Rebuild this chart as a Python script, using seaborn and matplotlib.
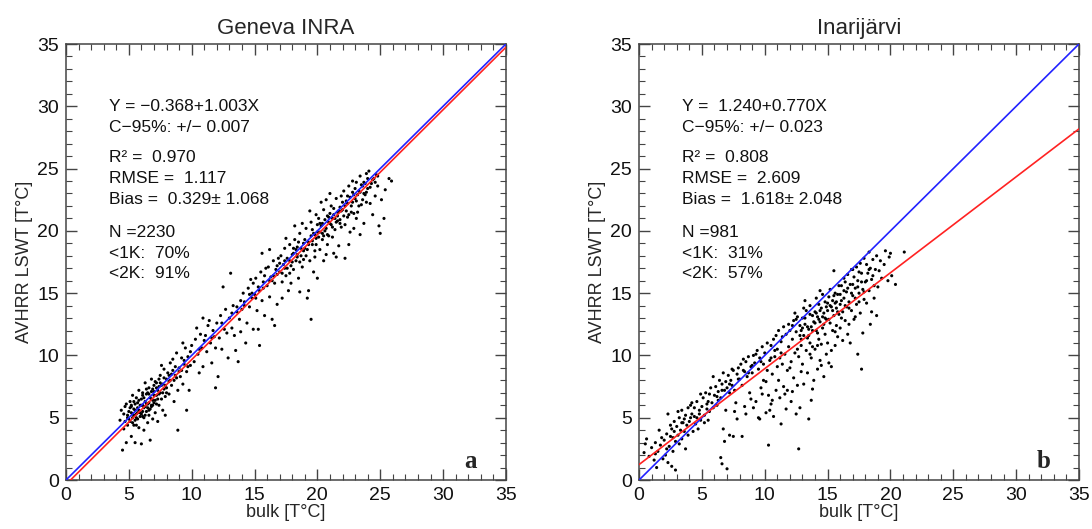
import matplotlib
matplotlib.use("Agg")
import matplotlib.pyplot as plt
from matplotlib.ticker import MultipleLocator
import seaborn as sns
import pandas as pd
import numpy as np

# ---------------- data ----------------
titles = ["Geneva INRA", "Inarijärvi"]
panel_letters = ["a", "b"]
axis_ticks = [0, 5, 10, 15, 20, 25, 30, 35]

# regression coefficients (intercept, slope)
geneva_fit = [-0.368, 1.003]
inari_fit = [1.240, 0.770]

geneva_stats = ["Y = \u22120.368+1.003X", "C\u221295%: +/\u2212 0.007",
                "R\u00b2 =  0.970", "RMSE =  1.117", "Bias =  0.329\u00b1 1.068",
                "N =2230", "<1K:  70%", "<2K:  91%"]
inari_stats = ["Y =  1.240+0.770X", "C\u221295%: +/\u2212 0.023",
               "R\u00b2 =  0.808", "RMSE =  2.609", "Bias =  1.618\u00b1 2.048",
               "N =981", "<1K:  31%", "<2K:  57%"]

geneva_bulk = [
    4.3, 4.4, 4.5, 4.6, 4.7, 4.8, 4.9, 4.6, 4.9, 4.8,
    5.0, 5.1, 5.1, 5.2, 5.2, 5.3, 5.3, 5.4, 5.4, 5.5, 5.5, 5.6, 5.6, 5.7, 5.7, 5.8, 5.8, 5.9, 5.9, 6.0, 5.5, 5.2, 5.8, 5.4,
    6.0, 6.1, 6.1, 6.2, 6.2, 6.3, 6.3, 6.4, 6.4, 6.5, 6.5, 6.6, 6.6, 6.7, 6.7, 6.8, 6.8, 6.9, 6.9, 7.0, 6.3, 6.6, 6.1, 6.8,
    7.0, 7.1, 7.1, 7.2, 7.3, 7.3, 7.4, 7.5, 7.5, 7.6, 7.7, 7.7, 7.8, 7.8, 7.9, 8.0, 7.4, 7.2, 7.6, 7.9,
    8.0, 8.1, 8.2, 8.3, 8.3, 8.4, 8.5, 8.6, 8.7, 8.8, 8.9, 8.9, 8.5, 8.2, 8.8,
    9.0, 9.1, 9.2, 9.3, 9.4, 9.5, 9.6, 9.7, 9.8, 9.9, 9.3, 9.6, 9.9,
    10.0, 10.2, 10.3, 10.5, 10.6, 10.7, 10.8, 10.9, 10.4, 10.9,
    11.0, 11.2, 11.3, 11.5, 11.6, 11.7, 11.8, 11.9, 11.4, 11.9,
    12.0, 12.2, 12.3, 12.4, 12.6, 12.7, 12.8, 12.9, 12.5, 12.1,
    13.0, 13.2, 13.3, 13.4, 13.6, 13.7, 13.8, 13.9, 13.5, 13.1, 13.9,
    14.0, 14.1, 14.2, 14.4, 14.5, 14.6, 14.7, 14.8, 14.9, 14.3, 14.6, 14.9,
    15.0, 15.1, 15.2, 15.3, 15.4, 15.5, 15.6, 15.7, 15.8, 15.9, 15.3, 15.6, 15.1, 15.8,
    16.0, 16.1, 16.2, 16.3, 16.4, 16.5, 16.6, 16.7, 16.8, 16.9, 16.6, 16.2, 16.4, 16.8,
    17.0, 17.1, 17.2, 17.3, 17.4, 17.5, 17.6, 17.7, 17.8, 17.9, 17.2, 17.5, 17.8, 17.4, 17.9,
    18.0, 18.1, 18.2, 18.3, 18.4, 18.5, 18.6, 18.7, 18.8, 18.9, 18.2, 18.6, 18.4, 18.8, 18.1, 18.9, 18.5,
    19.0, 19.1, 19.2, 19.3, 19.4, 19.5, 19.5, 19.6, 19.7, 19.8, 19.9, 19.3, 19.6, 19.9, 19.1, 19.4, 19.8, 19.7,
    20.0, 20.1, 20.2, 20.3, 20.4, 20.5, 20.6, 20.7, 20.8, 20.9, 20.0, 20.3, 20.5, 20.9, 20.2, 20.7, 20.4, 20.8,
    21.0, 21.1, 21.2, 21.3, 21.4, 21.5, 21.6, 21.7, 21.8, 21.9, 21.0, 21.3, 21.6, 21.9, 21.2, 21.5, 21.8,
    22.0, 22.1, 22.2, 22.3, 22.4, 22.5, 22.6, 22.7, 22.8, 22.9, 22.2, 22.5, 22.8, 22.4, 22.9,
    23.0, 23.1, 23.2, 23.3, 23.4, 23.5, 23.6, 23.7, 23.8, 23.9, 23.4, 23.7, 23.1, 23.9,
    24.0, 24.1, 24.2, 24.3, 24.4, 24.5, 24.6, 24.8, 24.9, 24.7,
    25.1, 25.3, 25.7, 25.9, 25.4, 25.0,
    # denser core along the 1:1 line
    5.0, 5.2, 5.3, 5.5, 5.6, 5.7, 5.9, 6.0, 6.1, 6.2, 6.3, 6.4, 6.5, 6.6, 6.7, 6.8, 6.9, 7.0, 7.1, 7.2,
    7.3, 7.4, 7.5, 7.6, 7.7, 7.8, 7.9, 8.0, 5.1, 5.4, 5.6, 5.8, 6.0, 6.2, 6.4, 6.6, 6.8, 7.0, 7.2, 7.4,
    6.1, 6.5, 6.9, 5.3, 5.7, 4.7, 4.9, 8.2, 8.4, 8.6, 8.7, 9.0, 9.2, 9.4, 9.7,
    17.0, 17.2, 17.4, 17.6, 17.8, 18.0, 18.1, 18.3, 18.4, 18.6, 18.7, 18.9, 19.0, 19.2, 19.3, 19.5,
    19.6, 19.8, 19.9, 20.0, 20.1, 20.2, 20.4, 20.5, 20.6, 20.7, 20.8, 20.9, 21.0, 21.1, 21.2, 21.3,
    21.4, 21.5, 21.6, 21.7, 21.8, 21.9, 22.0, 22.1, 22.2, 22.3, 22.4, 22.5, 22.6, 22.7, 22.8, 22.9,
    23.0, 23.1, 23.2, 23.3, 23.4, 23.5, 23.6, 23.7, 23.8, 23.9, 24.0, 24.2, 24.4, 24.6, 24.8,
    16.2, 16.5, 16.8, 15.4, 15.7, 14.8, 14.2, 13.6, 13.2, 12.4, 11.6, 11.1, 10.6,
]
geneva_avhrr = [
    4.8, 5.6, 2.4, 4.1, 5.9, 3.0, 5.2, 5.3, 4.4, 6.1,
    5.5, 4.7, 6.3, 3.5, 5.9, 5.0, 6.8, 4.4, 5.7, 6.1, 3.0, 5.3, 6.6, 4.9, 5.8, 7.2, 4.2, 6.0, 5.4, 2.9, 4.8, 6.0, 6.4, 5.2,
    6.5, 5.1, 7.0, 5.8, 4.0, 6.3, 7.8, 5.5, 6.9, 4.6, 6.1, 7.4, 5.2, 6.6, 3.2, 5.9, 7.1, 6.4, 4.9, 7.6, 5.9, 6.2, 6.0, 8.1,
    6.2, 5.4, 7.9, 6.8, 7.2, 4.7, 6.0, 8.4, 7.0, 6.5, 7.7, 5.6, 8.9, 7.3, 6.7, 8.1, 7.5, 7.8, 9.2, 5.2,
    7.4, 8.6, 6.9, 8.0, 9.4, 7.6, 8.8, 6.3, 9.1, 8.2, 7.2, 4.0, 9.7, 8.4, 10.2,
    9.0, 8.3, 9.8, 7.7, 9.3, 10.6, 8.7, 9.9, 7.2, 10.3, 11.0, 5.6, 9.2,
    10.8, 9.5, 11.3, 10.1, 8.6, 11.7, 10.6, 9.1, 12.2, 13.0,
    11.2, 10.3, 12.4, 11.0, 9.4, 12.0, 11.5, 7.4, 12.8, 10.6,
    12.6, 11.4, 13.2, 10.5, 12.1, 13.7, 11.8, 9.8, 15.5, 8.3,
    13.0, 12.2, 14.0, 11.6, 13.5, 9.5, 12.9, 14.4, 10.4, 16.6, 11.9,
    13.7, 15.0, 14.3, 12.6, 15.4, 13.9, 16.1, 14.6, 12.1, 11.0, 14.9, 15.8,
    14.9, 16.2, 13.6, 15.5, 10.8, 16.7, 14.4, 15.9, 13.2, 17.0, 12.1, 18.2, 14.6, 16.4,
    15.6, 17.1, 14.7, 16.3, 12.9, 17.6, 15.8, 16.9, 14.1, 17.8, 12.4, 18.5, 16.0, 16.5,
    16.7, 18.0, 15.9, 17.3, 18.6, 16.4, 17.8, 15.2, 18.9, 17.2, 14.6, 19.4, 16.6, 17.6, 15.8,
    18.1, 16.9, 19.3, 17.6, 18.7, 16.2, 19.8, 18.0, 17.1, 19.0, 20.4, 15.1, 17.9, 20.6, 18.6, 17.7, 19.1,
    18.6, 20.2, 14.6, 19.1, 17.6, 12.9, 20.7, 18.9, 19.8, 17.9, 21.3, 15.2, 20.1, 19.4, 18.0, 21.6, 18.4, 16.7,
    19.9, 21.0, 18.5, 20.4, 19.3, 21.7, 20.0, 18.1, 21.2, 19.6, 16.2, 22.3, 17.6, 20.7, 20.6, 22.5, 19.8, 18.9,
    20.6, 22.0, 19.5, 21.3, 20.1, 22.6, 20.8, 18.8, 21.9, 20.3, 23.0, 18.2, 21.5, 22.8, 21.0, 17.9, 20.9,
    21.7, 23.2, 20.5, 22.4, 21.1, 23.6, 19.9, 22.0, 23.1, 21.4, 17.8, 18.9, 24.0, 22.8, 20.2,
    22.6, 23.9, 21.5, 23.2, 24.4, 22.1, 23.6, 20.6, 22.9, 24.6, 19.7, 23.9, 21.0, 22.3,
    23.4, 24.8, 22.2, 23.8, 21.3, 24.2, 22.8, 23.6, 20.4, 24.5,
    22.5, 21.0, 24.2, 24.0, 23.3, 19.8,
    # denser core along the 1:1 line
    4.9, 5.4, 4.6, 5.6, 4.4, 6.2, 5.1, 6.0, 5.5, 6.6, 5.2, 6.1, 5.8, 6.9, 5.7, 6.5, 7.3, 6.8, 6.4, 7.4,
    6.5, 6.9, 7.8, 7.6, 7.0, 8.2, 7.6, 7.0, 5.8, 6.3, 5.0, 5.6, 5.3, 5.0, 7.3, 5.6, 6.0, 7.1, 6.1, 8.1,
    6.8, 7.0, 6.0, 5.3, 5.4, 4.7, 5.0, 7.9, 8.5, 8.0, 8.4, 8.7, 8.8, 9.6, 9.1,
    17.4, 16.6, 17.0, 17.0, 17.6, 17.5, 18.2, 18.5, 18.1, 17.5, 18.6, 18.4, 19.3, 18.5, 18.9, 19.6,
    19.2, 19.7, 18.9, 20.5, 19.5, 19.9, 20.6, 19.6, 20.9, 20.2, 19.7, 21.1, 21.4, 20.5, 20.3, 21.8,
    21.0, 20.7, 21.2, 21.6, 20.6, 21.6, 22.3, 21.2, 22.0, 21.6, 22.2, 21.3, 22.7, 21.5, 22.3, 22.9,
    23.4, 22.4, 22.9, 22.0, 23.1, 23.7, 22.5, 23.0, 23.8, 23.1, 24.2, 23.5, 24.1, 23.9, 24.4,
    16.0, 16.4, 17.2, 15.2, 15.4, 15.0, 14.0, 13.9, 13.4, 12.6, 11.4, 11.6, 10.5,
]

inari_bulk = [
    0.4, 0.5, 0.6, 0.8, 1.0, 1.2, 1.3, 1.4, 1.5, 1.6, 1.7, 1.8, 1.9, 1.3,
    2.0, 2.1, 2.2, 2.3, 2.3, 2.4, 2.5, 2.6, 2.6, 2.7, 2.8, 2.8, 2.9, 2.9, 2.2, 2.5,
    3.0, 3.1, 3.2, 3.2, 3.3, 3.4, 3.4, 3.5, 3.6, 3.7, 3.7, 3.8, 3.9, 3.9, 3.1, 3.6,
    4.0, 4.1, 4.2, 4.3, 4.4, 4.5, 4.6, 4.6, 4.7, 4.8, 4.9, 4.9, 4.2, 4.4,
    5.0, 5.1, 5.2, 5.2, 5.3, 5.4, 5.5, 5.6, 5.6, 5.7, 5.8, 5.9, 5.9, 5.4,
    6.0, 6.1, 6.2, 6.3, 6.4, 6.5, 6.5, 6.6, 6.6, 6.7, 6.8, 6.8, 6.9, 6.9, 6.3, 6.7,
    7.0, 7.0, 7.1, 7.2, 7.2, 7.3, 7.4, 7.5, 7.5, 7.6, 7.7, 7.8, 7.8, 7.9, 7.4, 7.6,
    8.0, 8.1, 8.2, 8.2, 8.3, 8.4, 8.5, 8.5, 8.6, 8.7, 8.8, 8.9, 8.9, 8.3, 8.7,
    9.0, 9.1, 9.1, 9.2, 9.3, 9.4, 9.5, 9.5, 9.6, 9.7, 9.8, 9.8, 9.9, 9.3, 9.6, 9.9,
    10.0, 10.1, 10.1, 10.2, 10.3, 10.3, 10.4, 10.5, 10.5, 10.6, 10.7, 10.7, 10.8, 10.9, 10.9, 10.2, 10.6, 10.4, 10.8,
    11.0, 11.1, 11.1, 11.2, 11.3, 11.3, 11.4, 11.5, 11.5, 11.6, 11.7, 11.7, 11.8, 11.9, 11.9, 11.2, 11.6, 11.4, 11.8,
    12.0, 12.1, 12.1, 12.2, 12.3, 12.3, 12.4, 12.5, 12.5, 12.6, 12.6, 12.7, 12.7, 12.8, 12.8, 12.9, 12.9, 12.2, 12.4, 12.6, 12.0, 12.9,
    13.0, 13.0, 13.1, 13.1, 13.2, 13.3, 13.3, 13.4, 13.5, 13.5, 13.6, 13.6, 13.7, 13.7, 13.8, 13.8, 13.9, 13.9, 13.2, 13.4, 13.6, 13.8, 13.1, 13.7,
    14.0, 14.0, 14.1, 14.1, 14.2, 14.2, 14.3, 14.3, 14.4, 14.4, 14.5, 14.5, 14.6, 14.6, 14.7, 14.7, 14.8, 14.8, 14.9, 14.9, 14.2, 14.5, 14.8, 14.4,
    15.0, 15.0, 15.1, 15.1, 15.2, 15.2, 15.3, 15.3, 15.4, 15.4, 15.5, 15.5, 15.6, 15.6, 15.7, 15.7, 15.8, 15.8, 15.9, 15.9, 15.3, 15.6,
    16.0, 16.0, 16.1, 16.2, 16.2, 16.3, 16.3, 16.4, 16.5, 16.5, 16.6, 16.6, 16.7, 16.7, 16.8, 16.9, 16.9, 16.4, 16.8, 16.1,
    17.0, 17.1, 17.1, 17.2, 17.3, 17.3, 17.4, 17.4, 17.5, 17.6, 17.6, 17.7, 17.7, 17.8, 17.8, 17.9, 17.9, 17.2, 17.5, 17.0,
    18.0, 18.1, 18.1, 18.2, 18.3, 18.3, 18.4, 18.5, 18.5, 18.6, 18.7, 18.7, 18.8, 18.9, 18.9, 18.4,
    19.0, 19.1, 19.2, 19.3, 19.5, 19.8, 19.9, 20.0, 20.1, 20.4, 21.1, 19.6,
    # denser core
    12.2, 12.5, 12.8, 13.0, 13.2, 13.4, 13.6, 13.8, 14.0, 14.1, 14.3, 14.4, 14.6, 14.7, 14.9, 15.0,
    15.1, 15.2, 15.4, 15.5, 15.7, 15.8, 16.0, 16.1, 16.3, 16.4, 16.6, 16.7, 16.9, 17.0, 17.2, 17.4,
    17.5, 17.7, 17.9, 18.1, 18.3, 18.6, 13.5, 12.9, 14.2, 15.6, 11.3, 11.0, 10.5, 9.7, 9.0, 8.4,
    7.9, 7.2, 6.6, 6.2, 5.5, 4.8, 4.1, 3.4, 2.7,
]
inari_avhrr = [
    2.2, 2.9, 3.3, 1.9, 2.6, 1.6, 3.0, 1.0, 2.3, 4.0, 2.8, 3.4, 1.7, 2.1,
    3.2, 2.0, 3.7, 1.4, 5.3, 2.7, 3.5, 4.1, 1.1, 2.3, 3.9, 4.7, 3.1, 0.8, 2.5, 4.4,
    4.3, 3.6, 5.0, 2.9, 4.0, 5.6, 3.3, 4.6, 3.9, 5.2, 2.5, 4.4, 5.8, 3.6, 5.5, 4.9,
    4.7, 6.0, 5.3, 3.9, 5.8, 4.5, 6.3, 5.0, 4.1, 5.6, 6.9, 4.8, 6.2, 5.1,
    5.9, 6.6, 5.2, 4.6, 7.0, 6.1, 4.8, 6.9, 5.5, 7.4, 6.2, 8.3, 5.8, 5.7,
    6.8, 7.5, 6.0, 7.1, 8.0, 6.6, 1.8, 7.7, 1.3, 8.6, 7.2, 3.1, 7.9, 5.6, 6.4, 4.1,
    7.4, 0.9, 8.4, 3.6, 7.0, 8.0, 7.6, 3.5, 8.8, 7.2, 6.2, 8.5, 4.9, 9.0, 8.9, 5.5,
    8.1, 9.3, 3.5, 7.6, 8.8, 5.9, 9.5, 5.3, 8.3, 9.9, 7.0, 9.1, 6.5, 9.7, 8.6,
    8.6, 10.0, 5.8, 9.4, 6.3, 10.4, 5.0, 8.9, 9.8, 7.4, 10.7, 6.9, 9.3, 10.1, 4.9, 8.0,
    10.2, 7.9, 5.4, 11.0, 2.8, 6.8, 9.6, 10.8, 6.1, 8.5, 11.3, 5.1, 9.9, 7.2, 11.6, 8.8, 6.4, 5.6, 10.4,
    10.5, 8.0, 12.0, 6.6, 11.1, 4.5, 9.3, 12.3, 7.5, 10.1, 5.7, 11.7, 8.8, 12.5, 10.7, 9.8, 6.9, 11.5, 7.2,
    12.0, 9.5, 6.3, 11.3, 12.8, 8.2, 10.2, 5.3, 11.9, 7.6, 13.1, 2.5, 9.9, 12.4, 5.8, 10.8, 8.7, 7.1, 13.4, 10.5, 9.0, 12.0,
    13.0, 9.3, 11.6, 7.7, 12.5, 10.4, 13.6, 8.6, 12.1, 4.9, 11.0, 14.0, 9.8, 6.4, 13.2, 10.7, 12.7, 8.0, 14.4, 11.4, 10.1, 7.3, 13.8, 12.3,
    13.5, 10.5, 12.0, 14.6, 8.9, 13.1, 11.3, 14.1, 9.6, 12.7, 13.8, 10.9, 12.2, 14.9, 8.3, 13.4, 11.7, 14.3, 12.9, 10.1, 11.8, 9.2, 13.0, 15.2,
    13.6, 11.0, 14.7, 9.4, 12.6, 15.3, 13.9, 10.4, 14.4, 12.0, 16.8, 13.2, 15.0, 10.8, 13.8, 12.4, 14.9, 11.5, 15.6, 13.3, 9.1, 14.2,
    14.1, 12.2, 15.6, 13.5, 11.2, 16.2, 14.6, 12.8, 15.1, 13.9, 11.7, 16.5, 14.3, 12.5, 15.7, 13.6, 16.9, 15.9, 11.0, 13.0,
    14.8, 16.3, 12.9, 15.4, 17.1, 14.1, 16.0, 10.1, 15.0, 17.4, 13.4, 16.6, 8.9, 15.3, 11.8, 17.8, 14.5, 13.1, 16.7, 16.9,
    15.9, 17.3, 14.2, 16.6, 18.3, 15.2, 17.0, 13.5, 16.1, 17.7, 15.6, 14.6, 16.9, 18.0, 13.2, 12.5,
    15.5, 16.8, 17.6, 16.2, 17.3, 16.0, 17.9, 18.2, 16.4, 15.7, 18.3, 18.4,
    # denser core
    12.4, 12.9, 11.6, 12.2, 13.0, 12.3, 13.3, 12.0, 12.6, 13.4, 12.9, 13.6, 13.1, 12.5, 13.9, 14.2,
    12.9, 14.0, 13.6, 14.8, 14.3, 13.5, 14.9, 14.4, 15.2, 14.0, 15.4, 13.8, 15.0, 15.7, 14.6, 15.5,
    14.3, 15.9, 15.1, 16.0, 16.9, 16.4, 11.6, 11.3, 10.8, 11.9, 10.2, 9.1, 9.8, 9.5, 9.2, 8.7,
    8.1, 7.7, 7.2, 6.7, 6.3, 5.3, 5.0, 4.6, 3.4,
]

# ---------------- style ----------------
sns.set_theme(style="white")
plt.rcParams["font.family"] = ["Liberation Sans", "DejaVu Sans"]
plt.rcParams["axes.unicode_minus"] = True

fig = plt.figure(figsize=(10.92, 5.29), dpi=100)
ax_a = fig.add_axes([0.0604, 0.0926, 0.4029, 0.8242])
ax_b = fig.add_axes([0.5852, 0.0926, 0.4029, 0.8242])

panels = [
    (ax_a, geneva_bulk, geneva_avhrr, geneva_fit, geneva_stats),
    (ax_b, inari_bulk, inari_avhrr, inari_fit, inari_stats),
]

stat_rows = [30.0, 28.3, 25.85, 24.2, 22.55, 19.9, 18.2, 16.6]

for i, (ax, xs, ys, fit, stats) in enumerate(panels):
    df = pd.DataFrame({"bulk": xs, "avhrr": ys})
    sns.scatterplot(data=df, x="bulk", y="avhrr", ax=ax, s=5, color="black",
                    marker="o", edgecolor="none", linewidth=0, zorder=2)
    line_x = np.array([0.0, 35.0])
    one_to_one = pd.DataFrame({"x": line_x, "y": line_x})
    reg = pd.DataFrame({"x": line_x, "y": fit[0] + fit[1] * line_x})
    sns.lineplot(data=one_to_one, x="x", y="y", ax=ax, color="#2222ff", lw=1.2, zorder=3)
    sns.lineplot(data=reg, x="x", y="y", ax=ax, color="#ff2222", lw=1.2, zorder=3)

    ax.set_xlim(0, 35)
    ax.set_ylim(0, 35)
    ax.set_xticks(axis_ticks)
    ax.set_yticks(axis_ticks)
    ax.xaxis.set_minor_locator(MultipleLocator(1))
    ax.yaxis.set_minor_locator(MultipleLocator(1))
    ax.tick_params(which="both", direction="in", top=True, right=True,
                   bottom=True, left=True, colors="#444444", labelcolor="#111111")
    ax.tick_params(which="major", length=8, width=1, labelsize=14, pad=5)
    ax.tick_params(which="minor", length=4, width=0.8)
    for sp in ax.spines.values():
        sp.set_color("#444444")
        sp.set_linewidth(1.1)
    ax.set_xlabel("bulk [T\u00b0C]", fontsize=13, labelpad=0)
    ax.set_ylabel("AVHRR LSWT [T\u00b0C]", fontsize=13, labelpad=3)
    ax.set_title(titles[i], fontsize=16, pad=7)

    for txt, yrow in zip(stats, stat_rows):
        ax.text(3.42, yrow, txt, fontsize=12.5, va="center", ha="left", color="#111111")
    ax.text(32.2, 1.5, panel_letters[i], fontsize=18,
            fontweight="bold", family="Liberation Serif", ha="center", va="center")

fig.savefig("out.png", dpi=100)
